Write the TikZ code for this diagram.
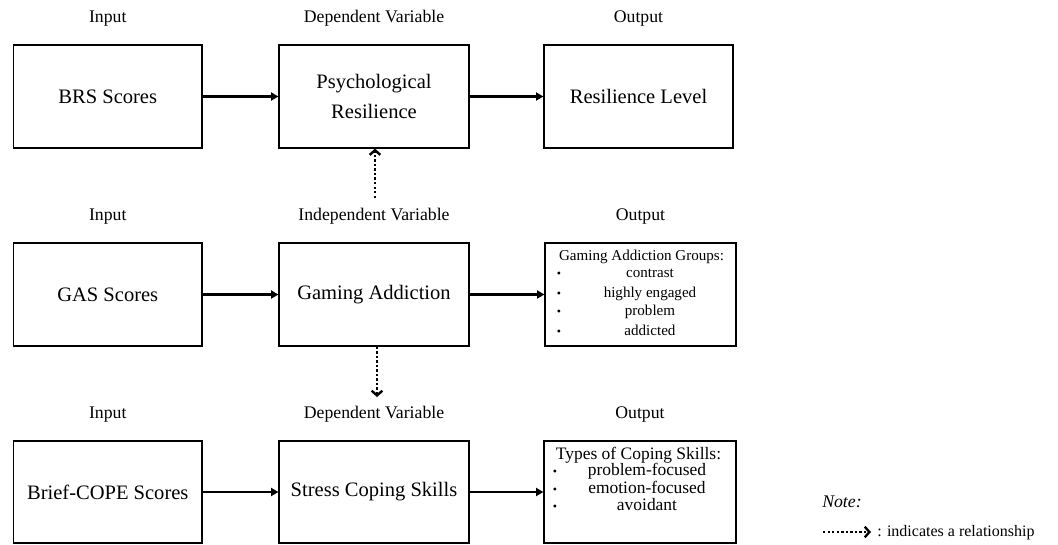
\documentclass[tikz,border=0pt]{standalone}
\usepackage{fontspec}
\setmainfont{Liberation Serif}
\usetikzlibrary{arrows.meta}
\begin{document}
\begin{tikzpicture}[x=0.75pt,y=-0.75pt,
  box/.style={draw,line width=0.9pt,inner sep=0pt,align=center,font=\fontsize{15.4}{22.5}\selectfont},
  wh/.style 2 args={minimum width=#1*0.75pt,minimum height=#2*0.75pt},
  lbl/.style={anchor=base,inner sep=0pt,font=\fontsize{13.3}{16}\selectfont},
  gtxt/.style={anchor=base,inner sep=0pt,font=\fontsize{11.3}{13}\selectfont},
  ctxt/.style={anchor=base,inner sep=0pt,font=\fontsize{13.1}{15}\selectfont},
  bul/.style={anchor=base,inner sep=0pt,font=\fontsize{9}{10}\selectfont},
  arr/.style={line width=1.8pt,-{Triangle[length=5.5pt,width=6pt]}},
  rel/.style={line width=2pt,dash pattern=on 1.8pt off 1.6pt,-{Straight Barb[length=3.5pt,width=8pt,line width=1.8pt]}}]
\useasboundingbox (0,0) rectangle (1058,544);

% Row 1
\node[lbl] (h11) at (107.75,22) {Input};
\node[lbl] (h12) at (374,22) {Dependent Variable};
\node[lbl] (h13) at (638.5,22) {Output};
\node[box,wh={188.5}{103}] (B11) at (107.75,96.5) {BRS Scores};
\node[box,wh={190}{103}] (B12) at (374,96.5) {Psychological\\Resilience};
\node[box,wh={189}{103}] (B13) at (638.5,96.5) {Resilience Level};
\draw[arr] (B11) -- (B12);
\draw[arr] (B12) -- (B13);

% Row 2
\node[lbl] (h21) at (107.75,220) {Input};
\node[lbl] (h22) at (374,220) {Independent Variable};
\node[lbl] (h23) at (640.5,220) {Output};
\node[box,wh={188.5}{103}] (B21) at (107.75,294.5) {GAS Scores};
\node[box,wh={190}{103}] (B22) at (374,294.5) {Gaming Addiction};
\node[box,wh={191}{103}] (B23) at (640.5,294.5) {};
\node[gtxt] (g0) at (641.5,260) {Gaming Addiction Groups:};
\node[bul] (gb1) at (559,277) {•};
\node[gtxt] (g1) at (650,277) {contrast};
\node[bul] (gb2) at (559,297) {•};
\node[gtxt] (g2) at (650,297) {highly engaged};
\node[bul] (gb3) at (559,315.5) {•};
\node[gtxt] (g3) at (650,315.5) {problem};
\node[bul] (gb4) at (559,335.5) {•};
\node[gtxt] (g4) at (650,335.5) {addicted};
\draw[arr] (B21) -- (B22);
\draw[arr] (B22) -- (B23);

% Row 3
\node[lbl] (h31) at (107.75,418) {Input};
\node[lbl] (h32) at (374,418) {Dependent Variable};
\node[lbl] (h33) at (640,418) {Output};
\node[box,wh={188.5}{102}] (B31) at (107.75,492) {Brief-COPE Scores};
\node[box,wh={190}{102}] (B32) at (374,492) {Stress Coping Skills};
\node[box,wh={192}{102}] (B33) at (640,492) {};
\node[ctxt] (c0) at (638.5,459) {Types of Coping Skills:};
\node[bul] (cb1) at (555,475.5) {•};
\node[ctxt] (c1) at (647,475.5) {problem-focused};
\node[bul] (cb2) at (555,493) {•};
\node[ctxt] (c2) at (647,493) {emotion-focused};
\node[bul] (cb3) at (555,510.5) {•};
\node[ctxt] (c3) at (647,510.5) {avoidant};
\draw[arr] (B31) -- (B32);
\draw[arr] (B32) -- (B33);

% Relationship arrows
\coordinate (u1) at (375,198);
\draw[rel] (u1) -- (u1 |- B12.south);
\coordinate (d1) at (377,397);
\draw[rel] (d1 |- B22.south) -- (d1);

% Note
\node[anchor=base west,inner sep=0pt,font=\fontsize{13.3}{16}\selectfont\itshape] (note) at (822,507) {Note:};
\coordinate (l1) at (823,532);
\coordinate (l2) at (871,532);
\draw[rel] (l1) -- (l2);
\node[anchor=base west,inner sep=0pt,font=\fontsize{12}{14}\selectfont] (legend) at (877,536) {: indicates a relationship};
\end{tikzpicture}
\end{document}
